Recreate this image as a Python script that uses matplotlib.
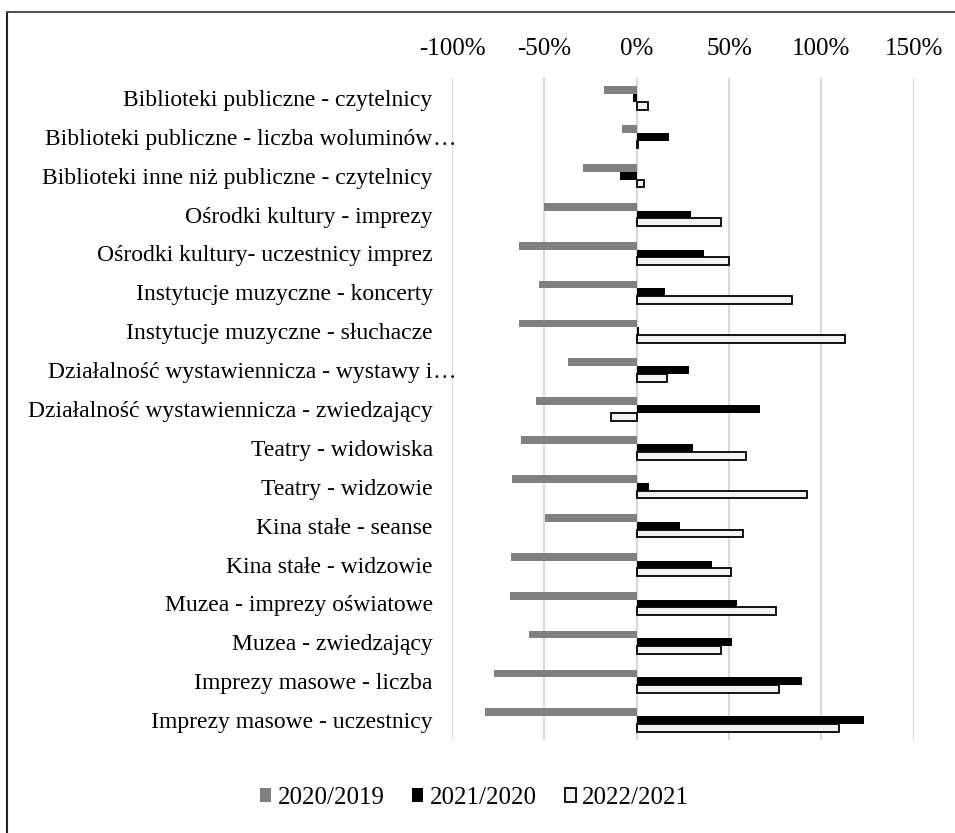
import matplotlib
matplotlib.use("Agg")
import matplotlib.pyplot as plt
import matplotlib.transforms as mtransforms
import numpy as np
from matplotlib.patches import Patch
from matplotlib.lines import Line2D

categories = [
    "Biblioteki publiczne - czytelnicy",
    "Biblioteki publiczne - liczba woluminów…",
    "Biblioteki inne niż publiczne - czytelnicy",
    "Ośrodki kultury - imprezy",
    "Ośrodki kultury- uczestnicy imprez",
    "Instytucje muzyczne - koncerty",
    "Instytucje muzyczne - słuchacze",
    "Działalność wystawiennicza - wystawy i…",
    "Działalność wystawiennicza - zwiedzający",
    "Teatry - widowiska",
    "Teatry - widzowie",
    "Kina stałe - seanse",
    "Kina stałe - widzowie",
    "Muzea - imprezy oświatowe",
    "Muzea - zwiedzający",
    "Imprezy masowe - liczba",
    "Imprezy masowe - uczestnicy",
]
series_names = ["2020/2019", "2021/2020", "2022/2021"]
v2020 = [-17.7, -8.0, -28.9, -50.2, -64.0, -52.8, -63.9, -37.4, -54.4, -62.7, -67.5, -49.8, -68.3, -68.5, -58.5, -77.3, -82.0]
v2021 = [-2.0, 17.7, -9.0, 29.6, 36.6, 15.5, 1.0, 28.3, 67.0, 30.5, 6.7, 23.3, 40.8, 54.5, 51.8, 89.4, 123.3]
v2022 = [6.3, 0.5, 3.8, 45.5, 49.8, 84.1, 112.8, 16.6, -14.1, 59.4, 92.3, 57.4, 50.9, 75.5, 45.7, 77.3, 109.4]
xticks = [-100, -50, 0, 50, 100, 150]
xtick_labels = ["-100%", "-50%", "0%", "50%", "100%", "150%"]

plt.rcParams['font.family'] = ['Liberation Serif', 'DejaVu Serif']
FS_CAT = 17
FS_TICK = 18
FS_LEG = 18
YPAD = 14

fig = plt.figure(figsize=(9.55, 8.33), dpi=100)
ax = fig.add_axes([452.1/955, 1-739.6/833, (913.6-452.1)/955, (739.6-78.4)/833])

y = np.arange(len(categories))
h = 0.2
ax.barh(y - h, v2020, height=h, color="#808080", edgecolor="none", zorder=3, label=series_names[0])
ax.barh(y, v2021, height=h, color="#000000", edgecolor="none", zorder=3, label=series_names[1])
ax.barh(y + h, v2022, height=h, color="#f2f2f2", edgecolor="#000000", linewidth=1.3, zorder=3, label=series_names[2])

ax.set_xlim(-100, 150)
ax.set_ylim(len(categories) - 0.5, -0.5)
ax.set_xticks(xticks)
ax.set_xticklabels(xtick_labels, fontsize=FS_TICK)
ax.xaxis.tick_top()
ax.tick_params(axis='x', length=0, pad=13)

# category labels: truncated ones let the ellipsis overflow to the right
tick_texts = [c[:-1] if c.endswith("…") else c for c in categories]
ax.set_yticks(y)
ax.set_yticklabels(tick_texts, fontsize=FS_CAT)
ax.tick_params(axis='y', length=0, pad=YPAD)
trans = mtransforms.blended_transform_factory(ax.transAxes, ax.transData) + \
    mtransforms.ScaledTranslation(-YPAD/72, 0, fig.dpi_scale_trans)
for yi, c in zip(y, categories):
    if c.endswith("…"):
        ax.text(0, yi, "…", transform=trans, ha='left', va='center_baseline',
                fontsize=FS_CAT, clip_on=False)

ax.grid(axis='x', color="#d9d9d9", linewidth=1.5, zorder=0)
for s in ax.spines.values():
    s.set_visible(False)

handles = [Patch(facecolor="#808080", edgecolor="none"),
           Patch(facecolor="#000000", edgecolor="none"),
           Patch(facecolor="#f2f2f2", edgecolor="#000000", linewidth=1.3)]
fig.legend(handles, series_names, loc='center', bbox_to_anchor=(0.497, 1-798/833),
           ncol=3, frameon=False, fontsize=FS_LEG, handlelength=0.44, handleheight=0.44,
           handletextpad=0.25, columnspacing=1.12)

# outer border (left and top visible)
fig.add_artist(Line2D([7/955, 7/955], [0, 1-12/833], transform=fig.transFigure, color="#222222", linewidth=1.5))
fig.add_artist(Line2D([7/955, 1], [1-12/833, 1-12/833], transform=fig.transFigure, color="#555555", linewidth=1.5))

fig.savefig("out.png", dpi=100)
